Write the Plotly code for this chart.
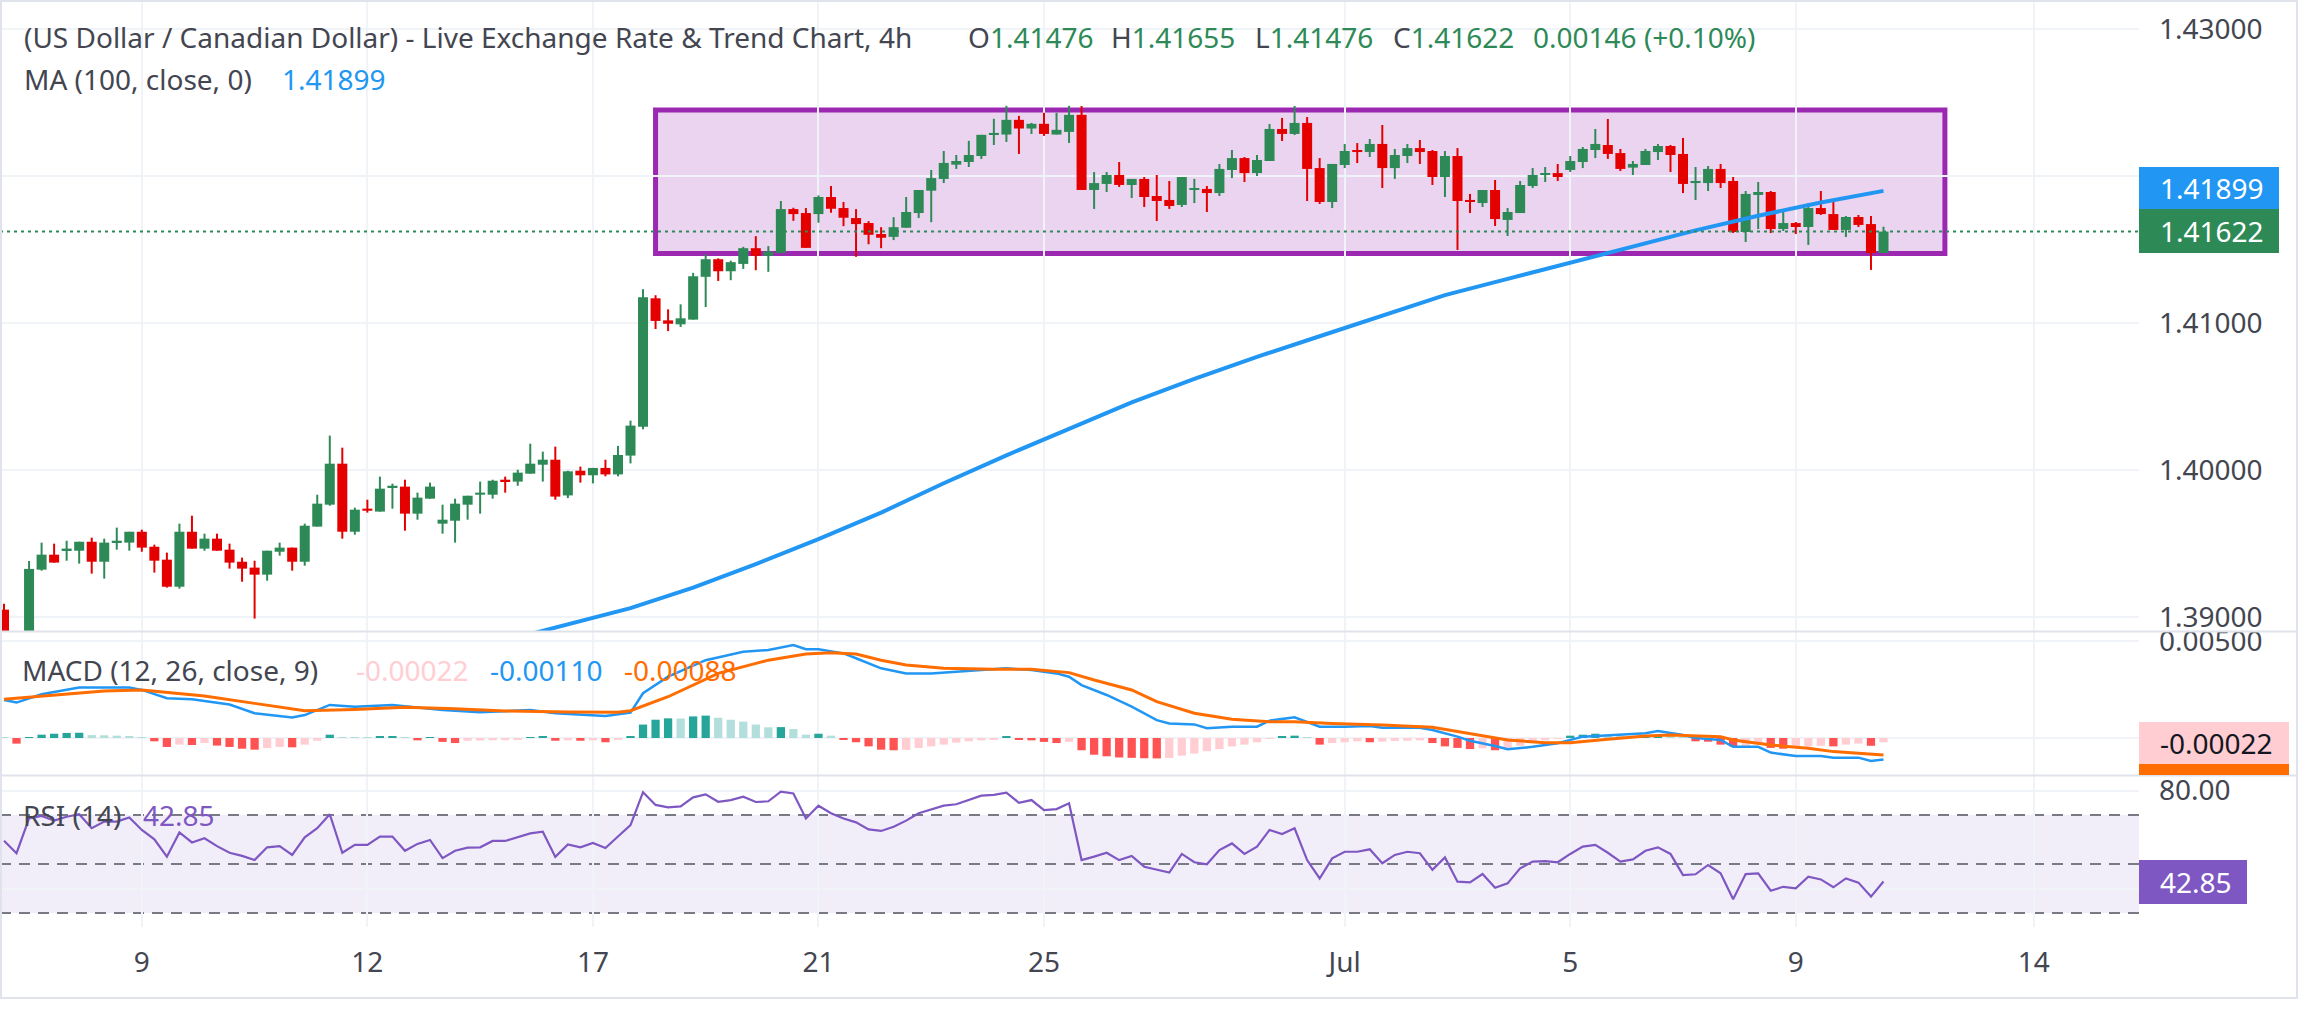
import plotly.graph_objects as go

# ---------------- data ----------------
candle_idx = list(range(151))
opens = [1.3905, 1.3882, 1.3876, 1.39322, 1.39424, 1.39454, 1.39451, 1.39512, 1.39376, 1.39506,
         1.39506, 1.39580, 1.39478, 1.39390, 1.39206, 1.39580, 1.39465, 1.39533, 1.39458, 1.39376,
         1.39336, 1.39288, 1.39444, 1.39472, 1.39376, 1.39615, 1.39764, 1.40043, 1.39580, 1.39737,
         1.39717, 1.39880, 1.39887, 1.39703, 1.39805, 1.39635, 1.39655, 1.39764, 1.39832, 1.39832,
         1.39934, 1.39921, 1.39975, 1.40036, 1.40070, 1.39827, 1.39995, 1.39964, 1.40014, 1.39970,
         1.40098, 1.40295, 1.41168, 1.41018, 1.40991, 1.41023, 1.41314, 1.41434, 1.41352, 1.41402,
         1.41509, 1.41457, 1.41477, 1.41775, 1.41748, 1.41741, 1.41857, 1.41782, 1.41714, 1.41680,
         1.41605, 1.41586, 1.41648, 1.41748, 1.41900, 1.41980, 1.42077, 1.42095, 1.42136, 1.42280,
         1.42282, 1.42382, 1.42323, 1.42355, 1.42282, 1.42300, 1.42416, 1.41905, 1.41946, 1.42007,
         1.41939, 1.41980, 1.41864, 1.41837, 1.41803, 1.41905, 1.41912, 1.41884, 1.42041, 1.42122,
         1.42020, 1.42102, 1.42320, 1.42286, 1.42361, 1.42054, 1.41823, 1.42075, 1.42177, 1.42163,
         1.42218, 1.42054, 1.42136, 1.42190, 1.42170, 1.41993, 1.42136, 1.41837, 1.41816, 1.41905,
         1.41701, 1.41748, 1.41932, 1.42007, 1.42020, 1.42041, 1.42095, 1.42177, 1.42211, 1.42156,
         1.42057, 1.42075, 1.42163, 1.42204, 1.42150, 1.41952, 1.41952, 1.42048, 1.41966, 1.41619,
         1.41871, 1.41891, 1.41639, 1.41680, 1.41653, 1.41782, 1.41741, 1.41633, 1.41721, 1.41673,
         1.41476]
highs = [1.3909, 1.3889, 1.39381, 1.39506, 1.39499, 1.39519, 1.39512, 1.39540, 1.39533, 1.39608,
         1.39580, 1.39594, 1.39492, 1.39438, 1.39635, 1.39689, 1.39567, 1.39567, 1.39499, 1.39404,
         1.39383, 1.39451, 1.39506, 1.39472, 1.39635, 1.39832, 1.40234, 1.40152, 1.39744, 1.39798,
         1.39955, 1.39907, 1.39934, 1.39846, 1.39914, 1.39764, 1.39805, 1.39825, 1.39921, 1.39934,
         1.39955, 1.40002, 1.40179, 1.40125, 1.40159, 1.39995, 1.40023, 1.40014, 1.40070, 1.40164,
         1.40336, 1.41230, 1.41189, 1.41093, 1.41127, 1.41341, 1.41468, 1.41440, 1.41424, 1.41518,
         1.41591, 1.41523, 1.41830, 1.41784, 1.41782, 1.41868, 1.41932, 1.41823, 1.41775, 1.41693,
         1.41652, 1.41720, 1.41857, 1.41905, 1.42041, 1.42170, 1.42143, 1.42239, 1.42280, 1.42389,
         1.42477, 1.42409, 1.42361, 1.42430, 1.42430, 1.42477, 1.42476, 1.42027, 1.42027, 1.42095,
         1.41980, 1.41993, 1.42007, 1.41966, 1.41993, 1.41980, 1.41932, 1.42082, 1.42177, 1.42129,
         1.42143, 1.42354, 1.42395, 1.42476, 1.42401, 1.42122, 1.42082, 1.42218, 1.42224, 1.42252,
         1.42347, 1.42184, 1.42218, 1.42245, 1.42177, 1.42170, 1.42190, 1.41878, 1.41905, 1.41973,
         1.41782, 1.41966, 1.42054, 1.42061, 1.42082, 1.42136, 1.42197, 1.42320, 1.42388, 1.42184,
         1.42102, 1.42184, 1.42218, 1.42211, 1.42259, 1.42061, 1.42068, 1.42082, 1.41993, 1.41898,
         1.41959, 1.41898, 1.41762, 1.41687, 1.41816, 1.41898, 1.41823, 1.41728, 1.41735, 1.41728,
         1.41655]
lows = [1.3878, 1.3868, 1.3872, 1.39315, 1.39370, 1.39383, 1.39363, 1.39295, 1.39261, 1.39458,
        1.39451, 1.39444, 1.39302, 1.39200, 1.39193, 1.39465, 1.39451, 1.39451, 1.39329, 1.39240,
        1.38989, 1.39247, 1.39417, 1.39315, 1.39349, 1.39615, 1.39757, 1.39533, 1.39560, 1.39710,
        1.39717, 1.39737, 1.39587, 1.39662, 1.39805, 1.39567, 1.39506, 1.39662, 1.39703, 1.39805,
        1.39846, 1.39893, 1.39975, 1.39921, 1.39798, 1.39809, 1.39914, 1.39909, 1.39957, 1.39957,
        1.40045, 1.40277, 1.40959, 1.40945, 1.40973, 1.41023, 1.41109, 1.41286, 1.41291, 1.41368,
        1.41359, 1.41348, 1.41473, 1.41695, 1.41511, 1.41682, 1.41750, 1.41659, 1.41450, 1.41536,
        1.41509, 1.41564, 1.41648, 1.41714, 1.41686, 1.41952, 1.42048, 1.42061, 1.42116, 1.42211,
        1.42232, 1.42150, 1.42286, 1.42273, 1.42282, 1.42225, 1.41905, 1.41776, 1.41891, 1.41925,
        1.41850, 1.41789, 1.41694, 1.41776, 1.41789, 1.41816, 1.41755, 1.41864, 1.41986, 1.41959,
        1.42000, 1.42102, 1.42238, 1.42279, 1.41830, 1.41810, 1.41782, 1.42054, 1.42088, 1.42129,
        1.41918, 1.41980, 1.42088, 1.42082, 1.41939, 1.41857, 1.41497, 1.41748, 1.41789, 1.41660,
        1.41592, 1.41748, 1.41918, 1.41959, 1.41966, 1.42027, 1.42054, 1.42122, 1.42116, 1.42034,
        1.42007, 1.42075, 1.42109, 1.42027, 1.41884, 1.41837, 1.41898, 1.41918, 1.41612, 1.41551,
        1.41639, 1.41612, 1.41626, 1.41605, 1.41531, 1.41735, 1.41633, 1.41585, 1.41653, 1.41361,
        1.41476]
closes = [1.3882, 1.3876, 1.39327, 1.39424, 1.39370, 1.39465, 1.39512, 1.39376, 1.39506, 1.39519,
          1.39580, 1.39472, 1.39383, 1.39206, 1.39580, 1.39465, 1.39533, 1.39451, 1.39370, 1.39329,
          1.39288, 1.39451, 1.39472, 1.39376, 1.39621, 1.39771, 1.40043, 1.39580, 1.39730, 1.39723,
          1.39873, 1.39893, 1.39703, 1.39812, 1.39887, 1.39662, 1.39771, 1.39825, 1.39846, 1.39927,
          1.39921, 1.39982, 1.40043, 1.40070, 1.39819, 1.39991, 1.39964, 1.40014, 1.39970, 1.40102,
          1.40302, 1.41175, 1.41014, 1.40995, 1.41032, 1.41318, 1.41434, 1.41352, 1.41414, 1.41509,
          1.41457, 1.41486, 1.41775, 1.41741, 1.41511, 1.41857, 1.41777, 1.41716, 1.41673, 1.41600,
          1.41580, 1.41652, 1.41755, 1.41905, 1.41986, 1.42089, 1.42102, 1.42143, 1.42280, 1.42293,
          1.42382, 1.42323, 1.42355, 1.42286, 1.42314, 1.42416, 1.41905, 1.41952, 1.42007, 1.41939,
          1.41980, 1.41857, 1.41830, 1.41796, 1.41993, 1.41918, 1.41884, 1.42048, 1.42122, 1.42020,
          1.42109, 1.42320, 1.42286, 1.42361, 1.42048, 1.41823, 1.42082, 1.42170, 1.42163, 1.42218,
          1.42054, 1.42143, 1.42190, 1.42163, 1.41993, 1.42136, 1.41830, 1.41823, 1.41905, 1.41707,
          1.41755, 1.41939, 1.42007, 1.42020, 1.41993, 1.42102, 1.42184, 1.42218, 1.42150, 1.42048,
          1.42082, 1.42170, 1.42204, 1.42143, 1.41946, 1.41966, 1.42048, 1.41952, 1.41619, 1.41878,
          1.41891, 1.41639, 1.41680, 1.41653, 1.41782, 1.41741, 1.41633, 1.41721, 1.41667, 1.41476,
          1.41622]

ma_idx = [40, 45, 50, 55, 60, 65, 70, 75, 80, 85, 90, 95, 100, 105, 110, 115, 120, 125,
          130, 135, 140, 145, 150]
ma_val = [1.3884, 1.3895, 1.3906, 1.3920, 1.3936, 1.3953, 1.3971, 1.3991, 1.4010, 1.4028,
          1.4046, 1.4062, 1.4077, 1.4091, 1.4105, 1.4119, 1.4130, 1.4141, 1.4152, 1.4163,
          1.4173, 1.4182, 1.41899]

macd_idx = [0, 1, 3, 6, 10, 11, 13, 15, 18, 20, 23, 24, 26, 28, 31, 35, 38, 42, 44, 48, 50,
            51, 53, 56, 59, 61, 63, 64, 65, 67, 68, 70, 72, 74, 76, 78, 80, 82, 84, 85, 86, 88,
            90, 92, 93, 95, 96, 98, 100, 101, 103, 105, 107, 109, 110, 113, 114, 116, 117, 119,
            120, 122, 124, 126, 128, 131, 132, 134, 135, 137, 138, 140, 141, 143, 145, 146, 148,
            149, 150]
macd_val = [0.00195, 0.00182, 0.00225, 0.00260, 0.00260, 0.00247, 0.00204, 0.00199, 0.00172,
            0.00127, 0.00106, 0.00118, 0.00170, 0.00161, 0.00170, 0.00144, 0.00132, 0.00144,
            0.00127, 0.00113, 0.00130, 0.00230, 0.00315, 0.00400, 0.00443, 0.00452, 0.00478,
            0.00456, 0.00456, 0.00435, 0.00410, 0.00358, 0.00332, 0.00332, 0.00341, 0.00349,
            0.00358, 0.00349, 0.00332, 0.00315, 0.00272, 0.00221, 0.00161, 0.00092, 0.00075,
            0.00070, 0.00050, 0.00058, 0.00058, 0.00089, 0.00106, 0.00058, 0.00058, 0.00062,
            0.00053, 0.00053, 0.00041, 0.00007, -0.00014, -0.00041, -0.00058, -0.00045,
            -0.00027, 0.00007, 0.00015, 0.00024, 0.00036, 0.00015, 0.00000, -0.00010,
            -0.00045, -0.00045, -0.00075, -0.00093, -0.00093, -0.00101, -0.00101, -0.00118,
            -0.00110]

signal_idx = [0, 4, 8, 11, 16, 20, 24, 28, 32, 36, 40, 45, 49, 50, 53, 57, 61, 64, 66, 68, 70,
              72, 75, 79, 82, 85, 87, 90, 92, 95, 98, 101, 103, 106, 110, 114, 117, 120, 123,
              125, 128, 131, 133, 137, 138, 141, 144, 146, 150]
signal_val = [0.00199, 0.00221, 0.00242, 0.00247, 0.00216, 0.00178, 0.00140, 0.00147, 0.00158,
              0.00150, 0.00139, 0.00134, 0.00132, 0.00140, 0.00212, 0.00332, 0.00400, 0.00432,
              0.00438, 0.00432, 0.00400, 0.00375, 0.00358, 0.00353, 0.00353, 0.00336, 0.00298,
              0.00247, 0.00187, 0.00127, 0.00096, 0.00084, 0.00084, 0.00075, 0.00067, 0.00055,
              0.00024, -0.00010, -0.00024, -0.00024, -0.00007, 0.00010, 0.00015, 0.00007,
              -0.00010, -0.00036, -0.00053, -0.00070, -0.00088]

hist_val = [0.00003, -0.00029, 0.00005, 0.00017, 0.00022, 0.00026, 0.00027, 0.00015, 0.00014, 0.00012,
            0.00009, 0.00003, -0.00017, -0.00046, -0.00034, -0.00036, -0.00026, -0.00039, -0.00046, -0.00055,
            -0.00060, -0.00052, -0.00046, -0.00048, -0.00034, -0.00014, 0.00017, 0.00005, 0.00004, 0.00003,
            0.00009, 0.00010, 0.00002, -0.00012, 0.00005, -0.00020, -0.00026, -0.00014, -0.00013, -0.00012,
            -0.00011, -0.00010, 0.00005, 0.00006, -0.00014, -0.00012, -0.00014, -0.00012, -0.00022, -0.00009,
            0.00009, 0.00069, 0.00094, 0.00101, 0.00100, 0.00111, 0.00115, 0.00104, 0.00094, 0.00084,
            0.00069, 0.00055, 0.00056, 0.00046, 0.00017, 0.00022, 0.00012, -0.00009, -0.00022, -0.00043,
            -0.00060, -0.00063, -0.00061, -0.00051, -0.00043, -0.00034, -0.00024, -0.00017, -0.00012, -0.00008,
            0.00007, -0.00009, -0.00012, -0.00020, -0.00026, -0.00020, -0.00063, -0.00086, -0.00094, -0.00100,
            -0.00102, -0.00104, -0.00105, -0.00103, -0.00091, -0.00080, -0.00068, -0.00057, -0.00043, -0.00034,
            -0.00022, -0.00004, 0.00009, 0.00012, 0.00005, -0.00034, -0.00026, -0.00022, -0.00017, -0.00022,
            -0.00019, -0.00015, -0.00014, -0.00012, -0.00026, -0.00043, -0.00051, -0.00057, -0.00053, -0.00063,
            -0.00051, -0.00040, -0.00026, -0.00012, -0.00005, 0.00012, 0.00017, 0.00022, 0.00015, 0.00012,
            0.00009, 0.00012, 0.00017, 0.00012, 0.00005, -0.00017, -0.00019, -0.00034, -0.00043, -0.00040,
            -0.00034, -0.00051, -0.00055, -0.00051, -0.00043, -0.00040, -0.00043, -0.00034, -0.00029, -0.00040,
            -0.00022]

rsi_val = [59.5, 54.4, 68.6, 69.6, 67.7, 69.3, 70.3, 64.6, 67.3, 67.3,
           69.0, 63.9, 60.1, 53.0, 62.9, 58.8, 60.5, 57.3, 54.6, 53.3,
           51.6, 56.8, 57.3, 53.7, 60.9, 64.6, 70.3, 54.6, 57.8, 57.8,
           61.2, 61.2, 55.4, 58.2, 59.8, 52.4, 55.4, 56.7, 56.8, 59.4,
           59.4, 60.9, 62.5, 63.2, 52.9, 58.0, 56.8, 58.6, 56.5, 61.2,
           65.9, 79.3, 74.1, 73.1, 73.5, 77.2, 78.4, 75.4, 76.1, 77.5,
           75.3, 75.6, 79.5, 78.8, 68.6, 73.8, 70.7, 68.6, 67.0, 64.1,
           63.5, 65.2, 67.7, 70.7, 72.4, 73.8, 74.4, 76.1, 77.9, 78.2,
           79.1, 75.0, 76.1, 72.0, 72.4, 74.8, 51.6, 53.0, 54.6, 51.6,
           53.3, 48.9, 47.8, 46.5, 54.1, 50.7, 49.9, 55.7, 58.4, 54.1,
           57.1, 63.9, 62.2, 64.6, 51.6, 44.1, 52.3, 55.0, 55.0, 56.0,
           50.3, 53.7, 55.0, 54.4, 47.6, 52.7, 42.8, 42.5, 45.9, 40.3,
           42.1, 48.2, 51.0, 51.2, 50.7, 54.1, 57.1, 57.8, 54.6, 51.0,
           51.9, 55.4, 56.8, 54.1, 45.5, 45.8, 49.6, 46.2, 35.6, 45.9,
           46.2, 39.1, 40.7, 40.1, 44.8, 43.7, 40.5, 44.1, 42.4, 36.7,
           42.85]

tick_idx = [11, 29, 47, 65, 83, 107, 125, 143, 162]
tick_text = ['9', '12', '17', '21', '25', 'Jul', '5', '9', '14']

price_ticks = [1.39, 1.40, 1.41, 1.42, 1.43]
price_ticktext = ['1.39000', '1.40000', '1.41000', '', '1.43000']
macd_ticks = [0.0, 0.005]
macd_ticktext = ['', '0.00500']
rsi_ticks = [40, 80]
rsi_ticktext = ['', '80.00']
rsi_levels = [70, 50, 30]

range_box_idx = [52.0, 154.9]
range_box_price = [1.41473, 1.42449]

# ---------------- styling / geometry ----------------
W, H = 2300, 1030
PL, PR, PT, PB = 0, 2139, 2, 927          # plot area in px
SLOT = 12.53                               # px per candle
X0PX = 4                                   # px of candle 0 centre

FONT = "Noto Sans, Open Sans, sans-serif"
FS = 28
TXT = "#434651"
GREEN = "#2D8A57"
RED = "#E50000"
BLUE = "#2196F3"
ORANGE = "#FF6D00"
PURPLE = "#7E57C2"
GRID = "#F0F3F7"
FRAME = "#E0E3EB"


def pxx(px):
    return (px - PL) / (PR - PL)


def pxy(py):
    return (PB - py) / (PB - PT)


x_range = [(PL - X0PX) / SLOT, (PR - X0PX) / SLOT]
price_range = [1.43 - (631 - 29) / 14700, 1.43 + (29 - PT) / 14700]
macd_range = [-(775 - 738) / 19460, (738 - 632) / 19460]
rsi_range = [50 - (PB - 864) / 2.45, 50 + (864 - 776) / 2.45]

fig = go.Figure()

# candles: wicks
for up in (True, False):
    xs, ys = [], []
    for i, o, h, l, c in zip(candle_idx, opens, highs, lows, closes):
        if (c >= o) == up:
            xs += [i, i, None]
            ys += [l, h, None]
    fig.add_trace(go.Scatter(x=xs, y=ys, mode="lines", line=dict(color=GREEN if up else RED, width=2),
                             hoverinfo="skip", showlegend=False, xaxis="x", yaxis="y"))

MIN_BODY = 0.00012
for up in (True, False):
    bx, bh, bb = [], [], []
    for i, o, c in zip(candle_idx, opens, closes):
        if (c >= o) == up:
            lo, hi = min(o, c), max(o, c)
            if hi - lo < MIN_BODY:
                mid = (hi + lo) / 2
                lo, hi = mid - MIN_BODY / 2, mid + MIN_BODY / 2
            bx.append(i)
            bh.append(hi - lo)
            bb.append(lo)
    fig.add_trace(go.Bar(x=bx, y=bh, base=bb, width=0.8, marker=dict(color=GREEN if up else RED, line=dict(width=0)),
                         hoverinfo="skip", showlegend=False, xaxis="x", yaxis="y"))

# moving average
fig.add_trace(go.Scatter(x=ma_idx, y=ma_val, mode="lines", line=dict(color=BLUE, width=4),
                         hoverinfo="skip", showlegend=False, xaxis="x", yaxis="y"))

# MACD histogram
hist_colors = []
for i, v in enumerate(hist_val):
    prev = hist_val[i - 1] if i > 0 else v
    if v >= 0:
        hist_colors.append("#26A69A" if v > prev else "#B2DFDB")
    else:
        hist_colors.append("#FF5252" if v < prev else "#FFCDD2")
fig.add_trace(go.Bar(x=candle_idx, y=hist_val, width=0.66, marker=dict(color=hist_colors, line=dict(width=0)),
                     hoverinfo="skip", showlegend=False, xaxis="x2", yaxis="y2"))
fig.add_trace(go.Scatter(x=macd_idx, y=macd_val, mode="lines", line=dict(color=BLUE, width=2.5),
                         hoverinfo="skip", showlegend=False, xaxis="x2", yaxis="y2"))
fig.add_trace(go.Scatter(x=signal_idx, y=signal_val, mode="lines", line=dict(color=ORANGE, width=3),
                         hoverinfo="skip", showlegend=False, xaxis="x2", yaxis="y2"))

# RSI
fig.add_trace(go.Scatter(x=candle_idx, y=rsi_val, mode="lines", line=dict(color=PURPLE, width=2.2),
                         hoverinfo="skip", showlegend=False, xaxis="x3", yaxis="y3"))

shapes = []
# range rectangle
shapes.append(dict(type="rect", xref="x", yref="y", x0=range_box_idx[0], x1=range_box_idx[1],
                   y0=range_box_price[0], y1=range_box_price[1], fillcolor="rgba(156,39,176,0.2)",
                   line=dict(color="#9C27B0", width=5), layer="below"))
# RSI band and levels
shapes.append(dict(type="rect", xref="paper", yref="y3", x0=0, x1=1, y0=rsi_levels[2], y1=rsi_levels[0],
                   fillcolor="rgba(126,87,194,0.1)", line=dict(width=0), layer="below"))
for lv in rsi_levels:
    shapes.append(dict(type="line", xref="paper", yref="y3", x0=0, x1=1, y0=lv, y1=lv,
                       line=dict(color="#787B86", width=2, dash="11px,8px"), layer="below"))
# last price dotted line
shapes.append(dict(type="line", xref="paper", yref="y", x0=0, x1=1, y0=closes[-1], y1=closes[-1],
                   line=dict(color=GREEN, width=2, dash="3px,4px"), layer="above"))
# frame and separators
for y_px in (1, 631.5, 775.5, 998):
    shapes.append(dict(type="line", xref="paper", yref="paper", x0=pxx(0), x1=pxx(2298), y0=pxy(y_px), y1=pxy(y_px),
                       line=dict(color=FRAME, width=2), layer="above"))
for x_px in (1, 2297):
    shapes.append(dict(type="line", xref="paper", yref="paper", x0=pxx(x_px), x1=pxx(x_px), y0=pxy(0), y1=pxy(998),
                       line=dict(color=FRAME, width=2), layer="above"))

# right-hand value labels
labels = [
    (f"{ma_val[-1]:.5f}", BLUE, "white", 2139, 2279, 167, 209),
    (f"{closes[-1]:.5f}", GREEN, "white", 2139, 2279, 209, 253),
    (f"{hist_val[-1]:.5f}", "#FFCDD2", "#131722", 2139, 2289, 722, 764),
    ("", ORANGE, ORANGE, 2139, 2289, 764, 775),
    (f"{rsi_val[-1]:.2f}", PURPLE, "white", 2139, 2247, 860, 904),
]
annotations = []
for text, bg, fg, x0, x1, y0, y1 in labels:
    shapes.append(dict(type="rect", xref="paper", yref="paper", x0=pxx(x0), x1=pxx(x1), y0=pxy(y1), y1=pxy(y0),
                       fillcolor=bg, line=dict(width=0), layer="above"))
    if text:
        annotations.append(dict(xref="paper", yref="paper", x=pxx(2158), y=pxy((y0 + y1) / 2),
                                xanchor="left", yanchor="middle", text=text, showarrow=False,
                                font=dict(family=FONT, size=FS, color=fg)))

# legend texts
chg = closes[-1] - closes[-2]
pct = chg / closes[-2] * 100


def g(v):
    return f"<span style='color:{GREEN}'>{v}</span>"


legend_items = [
    (22, 37, "(US Dollar / Canadian Dollar) - Live Exchange Rate &amp; Trend Chart, 4h", TXT),
    (966, 37, "O" + g(f"{opens[-1]:.5f}"), TXT),
    (1109, 37, "H" + g(f"{highs[-1]:.5f}"), TXT),
    (1253, 37, "L" + g(f"{lows[-1]:.5f}"), TXT),
    (1391, 37, "C" + g(f"{closes[-1]:.5f}"), TXT),
    (1531, 37, f"{chg:.5f} ({pct:+.2f}%)", GREEN),
    (22, 79, "MA (100, close, 0)", TXT),
    (280, 79, f"{ma_val[-1]:.5f}", BLUE),
    (20, 670, "MACD (12, 26, close, 9)", TXT),
    (354, 670, f"{hist_val[-1]:.5f}", "#FFCDD2"),
    (488, 670, f"{macd_val[-1]:.5f}", BLUE),
    (622, 670, f"{signal_val[-1]:.5f}", ORANGE),
    (21, 815, "RSI (14)", TXT),
    (141, 815, f"{rsi_val[-1]:.2f}", PURPLE),
]
for x_px, y_px, text, col in legend_items:
    annotations.append(dict(xref="paper", yref="paper", x=pxx(x_px), y=pxy(y_px), xanchor="left",
                            yanchor="middle", text=text, showarrow=False,
                            font=dict(family=FONT, size=FS, color=col)))

xcommon = dict(range=x_range, tickmode="array", tickvals=tick_idx, ticktext=tick_text, showgrid=True,
               gridcolor=GRID, gridwidth=2, zeroline=False, showline=False, ticks="", fixedrange=True)
ycommon = dict(side="right", showgrid=True, gridcolor=GRID, gridwidth=2, zeroline=False, showline=False,
               ticks="", tickmode="array", ticklabelstandoff=19,
               tickfont=dict(family=FONT, size=FS, color=TXT))

fig.update_layout(
    width=W, height=H,
    margin=dict(l=PL, r=W - PR, t=PT, b=H - PB, autoexpand=False),
    paper_bgcolor="white", plot_bgcolor="white",
    font=dict(family=FONT, size=FS, color=TXT),
    barmode="overlay", showlegend=False, hovermode=False,
    xaxis=dict(domain=[0, 1], anchor="y", showticklabels=False, **xcommon),
    xaxis2=dict(domain=[0, 1], anchor="y2", showticklabels=False, **xcommon),
    xaxis3=dict(domain=[0, 1], anchor="y3", showticklabels=True, ticklabelstandoff=16,
                tickfont=dict(family=FONT, size=FS, color=TXT), **xcommon),
    yaxis=dict(domain=[pxy(631), 1], anchor="x", range=price_range, tickvals=price_ticks,
               ticktext=price_ticktext, **ycommon),
    yaxis2=dict(domain=[pxy(775), pxy(632)], anchor="x2", range=macd_range, tickvals=macd_ticks,
                ticktext=macd_ticktext, **ycommon),
    yaxis3=dict(domain=[0, pxy(776)], anchor="x3", range=rsi_range, tickvals=rsi_ticks,
                ticktext=rsi_ticktext, **ycommon),
    shapes=shapes,
    annotations=annotations,
)

fig.write_html("out.html")
